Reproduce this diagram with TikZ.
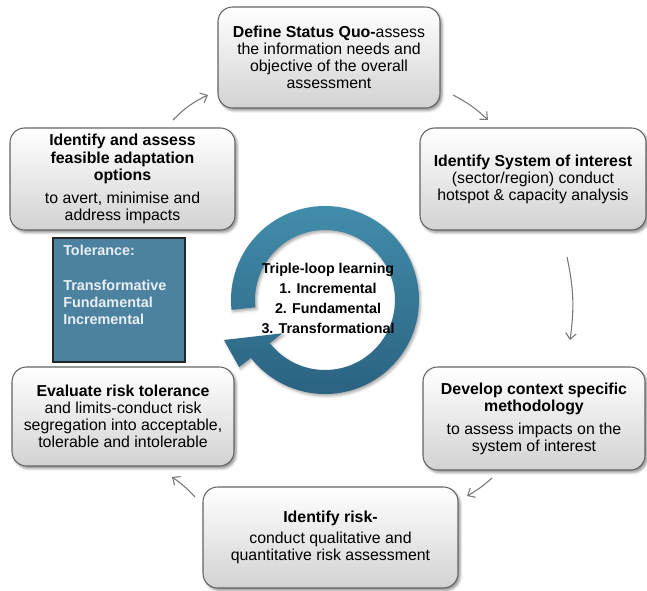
\documentclass[tikz,border=0pt]{standalone}
\usepackage{fontspec}
\setmainfont{Liberation Sans}
\usetikzlibrary{calc,arrows.meta,shadows.blur}

\definecolor{boxedge}{RGB}{100,100,100}
\definecolor{boxlow}{RGB}{210,210,210}
\definecolor{ringtop}{RGB}{66,142,172}
\definecolor{ringlow}{RGB}{42,98,128}
\definecolor{tolfill}{RGB}{76,130,160}
\definecolor{toltext}{RGB}{232,238,242}
\definecolor{linkgray}{RGB}{120,120,120}

\tikzset{
  stagebox/.style 2 args={
    rounded corners=11pt, draw=boxedge, line width=0.8pt,
    top color=white, bottom color=boxlow,
    align=center, inner sep=0pt,
    minimum width=#1*0.75pt, minimum height=#2*0.75pt,
    font=\fontsize{11.9}{12.8}\selectfont,
    blur shadow={shadow xshift=1.5pt, shadow yshift=-1.8pt,
                 shadow blur radius=2pt, shadow opacity=45}},
  tolbox/.style={draw=black!85, line width=1pt, fill=tolfill,
    minimum width=132*0.75pt, minimum height=124*0.75pt, inner sep=0pt},
  toltext/.style={text=toltext, align=left, inner sep=0pt,
    font=\bfseries\fontsize{10.8}{12.9}\selectfont},
  looptext/.style={align=center, inner sep=0pt,
    font=\bfseries\fontsize{10.7}{15}\selectfont},
  link/.style={draw=linkgray, line width=0.8pt,
    -{Straight Barb[length=4.5pt,width=8pt]}}
}

\begin{document}
\begin{tikzpicture}[x=0.75pt,y=-0.75pt]
\useasboundingbox (0,0) rectangle (647,590);

% the six stages of the cycle
\node[stagebox={222}{101}] (status) at (329,57.5)
  {\textbf{Define Status Quo-}assess\\the information needs and\\objective of the overall\\assessment};
\node[stagebox={226}{102}] (system) at (533,179)
  {\textbf{Identify System of interest}\\(sector/region) conduct\\hotspot \& capacity analysis};
\node[stagebox={222}{103}] (method) at (534,418.5)
  {\textbf{Develop context specific}\\\textbf{methodology}\\[4.5pt]to assess impacts on the\\system of interest};
\node[stagebox={255}{101}] (risk) at (330.5,537.5)
  {\textbf{Identify risk-}\\[3pt]conduct qualitative  and\\quantitative risk assessment};
\node[stagebox={222}{99}] (evaluate) at (123,416.5)
  {\textbf{Evaluate risk tolerance}\\and limits-conduct risk\\segregation into acceptable,\\tolerable and intolerable};
\node[stagebox={225}{102}] (options) at (122.5,179)
  {\textbf{Identify and assess}\\\textbf{feasible adaptation}\\\textbf{options}\\[4.5pt]to avert, minimise and\\address impacts};

% tolerance panel
\node[tolbox] (tol) at (119,300) {};
\node[toltext, anchor=north west] (toltxt) at (63,245)
  {Tolerance:\\[12.9pt]Transformative\\Fundamental\\Incremental};

% circular learning arrow
\coordinate (ringc) at (325,300);
\coordinate (tip) at (224,340);
\shade[top color=ringtop, bottom color=ringlow,
       blur shadow={shadow xshift=1.2pt, shadow yshift=-1.5pt,
                    shadow blur radius=2pt, shadow opacity=35}]
  ($(ringc)+(174:94)$) arc[start angle=174, end angle=502, radius=94]
  -- ($(ringc)+(502:109)$) -- (tip) -- ($(ringc)+(502:54)$)
  -- ($(ringc)+(502:70)$) arc[start angle=502, end angle=174, radius=70]
  -- cycle;
\node[looptext] (loop) at (328,298.5)
  {Triple-loop learning\\1. Incremental\\2. Fundamental\\3. Transformational};

% connectors between stages
\coordinate (a1s) at (173,120); \coordinate (a1e) at (208,95);
\coordinate (a2s) at (453,95);  \coordinate (a2e) at (488,120);
\coordinate (a3s) at (567,257); \coordinate (a3e) at (570,340);
\coordinate (a4s) at (492,478); \coordinate (a4e) at (467,496);
\coordinate (a5s) at (195,497); \coordinate (a5e) at (172,477);
\draw[link] (a1s) to[bend left=10] (a1e);
\draw[link] (a2s) to[bend left=8] (a2e);
\draw[link] (a3s) to[bend left=10] (a3e);
\draw[link] (a4s) to[bend left=6] (a4e);
\draw[link] (a5s) to[bend right=6] (a5e);
\end{tikzpicture}
\end{document}
